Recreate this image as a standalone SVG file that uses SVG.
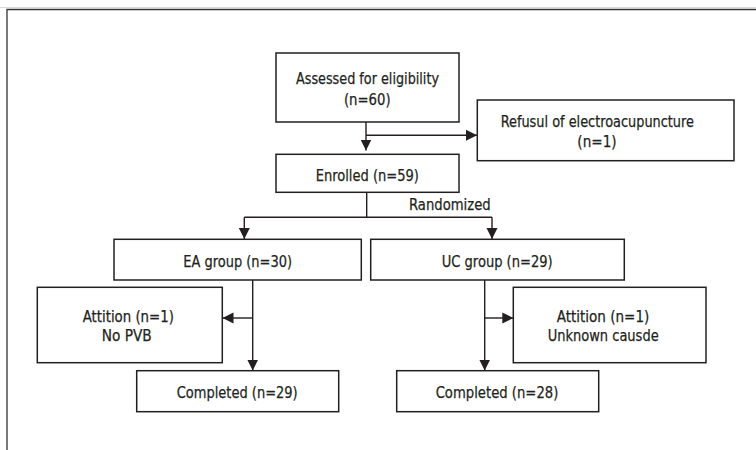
<svg xmlns="http://www.w3.org/2000/svg" width="756" height="450" viewBox="0 0 756 450">
<style>
.box{fill:#fff;stroke:#231f20;stroke-width:1.5}
.ln{fill:none;stroke:#231f20;stroke-width:1.4}
text{font-family:"Liberation Sans Narrow","DejaVu Sans Condensed","Liberation Sans",sans-serif;font-size:16.5px;fill:#231f20;stroke:#231f20;stroke-width:0.25;text-anchor:middle}
</style>
<defs>
<marker id="ah" markerUnits="userSpaceOnUse" markerWidth="12" markerHeight="12" viewBox="0 0 12 12" refX="11" refY="6" orient="auto">
<path d="M0,0.5 L11,6 L0,11.5 Z" fill="#231f20"/>
</marker>
</defs>
<rect width="756" height="450" fill="#fff"/>
<line x1="0" y1="7.5" x2="756" y2="7.5" stroke="#d8d8d8" stroke-width="1"/>
<path d="M7,450 V9.5 H756" fill="none" stroke="#333" stroke-width="1.3"/>
<g id="connectors">
<path class="ln" d="M366,122 V150.5" marker-end="url(#ah)"/>
<path class="ln" d="M366,135.3 H477" marker-end="url(#ah)"/>
<path class="ln" d="M366.7,192.3 V217.3"/>
<path class="ln" d="M244.3,217.3 H492"/>
<path class="ln" d="M244.3,217.3 V239" marker-end="url(#ah)"/>
<path class="ln" d="M492,217.3 V239" marker-end="url(#ah)"/>
<path class="ln" d="M252.7,280 V370.5" marker-end="url(#ah)"/>
<path class="ln" d="M252.7,318 H222.5" marker-end="url(#ah)"/>
<path class="ln" d="M484.7,280 V370.5" marker-end="url(#ah)"/>
<path class="ln" d="M484.7,318 H513.3" marker-end="url(#ah)"/>
<text x="409" y="210" style="text-anchor:start" textLength="81.7" lengthAdjust="spacingAndGlyphs">Randomized</text>
</g>
<g id="assessed">
<rect class="box" x="276" y="53" width="183" height="69"/>
<text x="367.5" y="84" textLength="143" lengthAdjust="spacingAndGlyphs">Assessed for eligibility</text>
<text x="367.3" y="105" textLength="46.7" lengthAdjust="spacingAndGlyphs">(n=60)</text>
</g>
<g id="refusal">
<rect class="box" x="477.3" y="100" width="256.7" height="60.7"/>
<text x="597.3" y="126.7" textLength="193.3" lengthAdjust="spacingAndGlyphs">Refusul of electroacupuncture</text>
<text x="597" y="146.7" textLength="39.3" lengthAdjust="spacingAndGlyphs">(n=1)</text>
</g>
<g id="enrolled">
<rect class="box" x="276" y="154.3" width="183" height="38"/>
<text x="367.3" y="180.7" textLength="103.3" lengthAdjust="spacingAndGlyphs">Enrolled (n=59)</text>
</g>
<g id="ea">
<rect class="box" x="114" y="239.3" width="247.3" height="40.7"/>
<text x="237.7" y="267" textLength="108.7" lengthAdjust="spacingAndGlyphs">EA group (n=30)</text>
</g>
<g id="uc">
<rect class="box" x="370.7" y="239.3" width="253.6" height="40.7"/>
<text x="497.2" y="267" textLength="111" lengthAdjust="spacingAndGlyphs">UC group (n=29)</text>
</g>
<g id="ea-attrition">
<rect class="box" x="37.3" y="287.3" width="185" height="75.4"/>
<text x="128.3" y="321.7" textLength="91.3" lengthAdjust="spacingAndGlyphs">Attition (n=1)</text>
<text x="126.7" y="340.7" textLength="50" lengthAdjust="spacingAndGlyphs">No PVB</text>
</g>
<g id="uc-attrition">
<rect class="box" x="513.3" y="287.3" width="192.7" height="75.4"/>
<text x="603" y="321.7" textLength="92.7" lengthAdjust="spacingAndGlyphs">Attition (n=1)</text>
<text x="603.2" y="340.7" textLength="111" lengthAdjust="spacingAndGlyphs">Unknown causde</text>
</g>
<g id="ea-completed">
<rect class="box" x="136.7" y="370.7" width="202" height="41"/>
<text x="237.2" y="398.3" textLength="121" lengthAdjust="spacingAndGlyphs">Completed (n=29)</text>
</g>
<g id="uc-completed">
<rect class="box" x="396.7" y="370.7" width="202" height="41"/>
<text x="497" y="398.3" textLength="122.7" lengthAdjust="spacingAndGlyphs">Completed (n=28)</text>
</g>
</svg>
